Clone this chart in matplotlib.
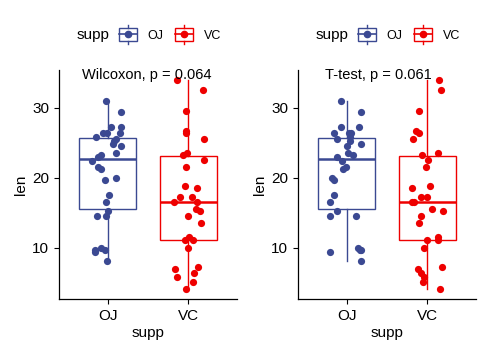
import matplotlib.pyplot as plt
from matplotlib.legend_handler import HandlerBase
from matplotlib.patches import Rectangle
from matplotlib.lines import Line2D

plt.rcParams['font.family'] = ['Liberation Sans', 'DejaVu Sans']

# ToothGrowth: len by supp (sorted high -> low)
groups = ['OJ', 'VC']
colors = ['#3B4992', '#EE0000']
oj_len = [30.9, 29.4, 27.3, 27.3, 26.4, 26.4, 26.4, 25.8, 25.5, 25.2, 24.8, 24.5,
          23.6, 23.3, 23.0, 22.4, 21.5, 21.2, 20.0, 19.7, 17.6, 16.5, 15.2, 14.5,
          14.5, 10.0, 9.7, 9.7, 9.4, 8.2]
vc_len = [33.9, 32.5, 29.5, 26.7, 26.4, 25.5, 23.6, 23.3, 22.5, 21.5, 18.8, 18.5,
          17.3, 17.3, 16.5, 16.5, 15.5, 15.2, 14.5, 13.6, 11.5, 11.2, 11.2, 10.0,
          7.3, 7.0, 6.4, 5.8, 5.2, 4.2]

# horizontal jitter
jit_left_oj = [-0.016, 0.165, 0.045, 0.16, -0.058, -0.008, 0.148, -0.14, 0.107, 0.078,
               0.07, 0.16, 0.107, -0.087, -0.12, -0.19, -0.12, -0.087, 0.107, -0.037,
               0.012, -0.025, 0.004, -0.136, -0.025, -0.087, -0.037, -0.16, -0.16, -0.012]
jit_left_vc = [-0.136, 0.177, -0.029, -0.029, -0.033, 0.19, -0.02, -0.07, 0.19, -0.029,
               -0.037, 0.1, -0.1, 0.045, -0.18, 0.107, 0.087, 0.144, 0.0, 0.152,
               0.004, -0.045, 0.054, 0.0, 0.115, -0.17, 0.07, -0.14, 0.054, -0.029]
jit_right_oj = [-0.068, 0.18, -0.064, 0.15, -0.15, 0.03, 0.056, 0.04, -0.117, 0.04,
                0.18, 0.006, 0.02, 0.08, -0.117, -0.056, -0.01, -0.04, -0.18, -0.16,
                -0.16, -0.2, -0.12, -0.2, 0.12, 0.146, 0.167, 0.18, -0.2, 0.175]
jit_right_vc = [0.143, 0.168, -0.107, -0.14, -0.107, -0.173, 0.136, -0.066, 0.004, -0.012,
                0.033, -0.19, -0.078, -0.008, -0.19, -0.165, 0.062, 0.19, -0.082, -0.1,
                0.136, -0.008, 0.128, -0.045, 0.177, -0.115, -0.078, -0.041, -0.05, 0.16]

labels = ['Wilcoxon, p = 0.064', 'T-test, p = 0.061']


class BoxHandler(HandlerBase):
    def create_artists(self, legend, orig_handle, xd, yd, w, h, fontsize, trans):
        c = orig_handle.get_color()
        x0, y0 = -xd, -yd
        rect = Rectangle((x0, y0), w, h, facecolor='white', edgecolor=c, lw=1.0, transform=trans)
        wu = Line2D([x0 + w / 2] * 2, [y0 + h, y0 + h * 1.3], color=c, lw=1.0, transform=trans)
        wl = Line2D([x0 + w / 2] * 2, [y0 - h * 0.3, y0], color=c, lw=1.0, transform=trans)
        med = Line2D([x0, x0 + w], [y0 + h / 2] * 2, color=c, lw=1.2, transform=trans)
        pt = Line2D([x0 + w / 2], [y0 + h / 2], marker='o', ms=4.5, color=c, lw=0, transform=trans)
        return [rect, wu, wl, med, pt]


fig = plt.figure(figsize=(4.91, 3.56), dpi=100)
panels = [
    (0.1202, jit_left_oj, jit_left_vc, labels[0], 0.129),
    (0.6069, jit_right_oj, jit_right_vc, labels[1], 0.152),
]

for left, joj, jvc, lab, lab_x in panels:
    ax = fig.add_axes([left, 0.1601, 0.3625, 0.6433])
    data = [oj_len, vc_len]
    jits = [joj, jvc]
    for i, (vals, jit, col) in enumerate(zip(data, jits, colors)):
        pos = i + 1
        ax.boxplot([vals], positions=[pos], widths=0.7, showcaps=False, showfliers=False,
                   patch_artist=True,
                   boxprops=dict(facecolor='white', edgecolor=col, lw=1.0),
                   whiskerprops=dict(color=col, lw=1.0),
                   medianprops=dict(color=col, lw=1.8), zorder=1)
        ax.scatter([pos + j for j in jit], vals, s=27, color=col, zorder=3, linewidths=0)

    ax.set_xlim(0.4, 2.6)
    ax.set_ylim(2.715, 35.385)
    ax.set_xticks([1, 2])
    ax.set_xticklabels(groups)
    ax.set_yticks([10, 20, 30])
    ax.tick_params(labelsize=11, length=3.5, width=0.8, colors='black')
    for s in ['top', 'right']:
        ax.spines[s].set_visible(False)
    for s in ['left', 'bottom']:
        ax.spines[s].set_linewidth(0.9)
    ax.set_xlabel('supp', fontsize=11, labelpad=2)
    ax.set_ylabel('len', fontsize=11, labelpad=3)

    ax.text(lab_x, 0.978, lab, transform=ax.transAxes, fontsize=10.5, ha='left', va='center')

    # legend: title on the left, keys beside it
    ax.text(0.1, 1.153, 'supp', transform=ax.transAxes, fontsize=11, ha='left', va='center')
    handles = [Line2D([], [], color=c) for c in colors]
    ax.legend(handles, groups, handler_map={Line2D: BoxHandler()}, ncol=2,
              loc='center left', bbox_to_anchor=(0.335, 1.153), frameon=False,
              fontsize=9, handlelength=1.45, handleheight=1.15, handletextpad=0.85,
              columnspacing=0.95, borderpad=0, borderaxespad=0)

fig.savefig('out.png', dpi=100)
